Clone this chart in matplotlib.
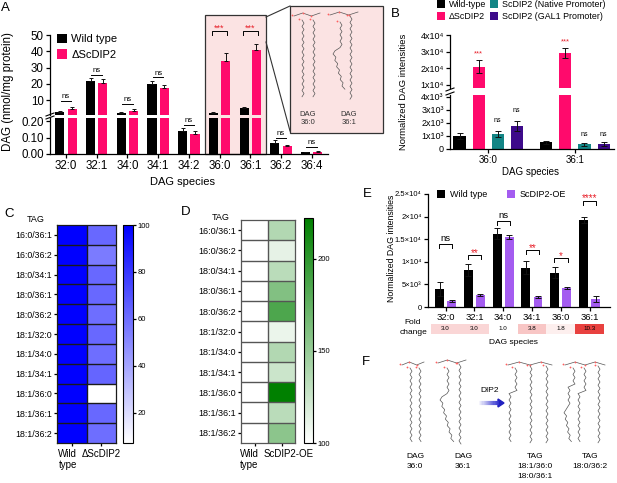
import numpy as np
import matplotlib
matplotlib.use("Agg")
import matplotlib.pyplot as plt
from matplotlib.colors import LinearSegmentedColormap
from matplotlib.patches import Rectangle
from matplotlib.transforms import ScaledTranslation

plt.rcParams['font.family'] = ['Liberation Sans', 'DejaVu Sans']
plt.rcParams['axes.linewidth'] = 0.9
plt.rcParams['xtick.major.width'] = 0.9
plt.rcParams['ytick.major.width'] = 0.9
plt.rcParams['xtick.major.size'] = 3
plt.rcParams['ytick.major.size'] = 3

W, H = 617, 483
PINK = '#ff0a6c'
TEAL = '#138585'
DPURP = '#3d0a8a'
LAV = '#a45cf0'
STAR = '#e8202a'

# --- panel A: DAG species, nmol/mg protein ---
species_a = ["32:0", "32:1", "34:0", "34:1", "34:2", "36:0", "36:1", "36:2", "36:4"]
a_wt = [2.7, 21.5, 2.0, 20.0, 0.14, 2.2, 5.0, 0.07, 0.01]
a_wt_err = [0.6, 2.2, 0.5, 1.5, 0.018, 0.6, 1.0, 0.013, 0.004]
a_ko = [4.5, 20.5, 3.5, 17.5, 0.12, 34.0, 40.5, 0.05, 0.012]
a_ko_err = [1.2, 2.2, 1.0, 2.0, 0.018, 5.0, 4.0, 0.008, 0.004]
a_sig = ["ns", "ns", "ns", "ns", "ns", "***", "***", "ns", "ns"]
a_sig_y = [9.4, 25.6, 7.5, 24.0, 0.18, 52.5, 52.5, 0.097, 0.042]

# --- panel B ---
species_b = ["36:0", "36:1"]
b_wt = [1000, 500]
b_wt_err = [200, 100]
b_ko = [21000, 29500]
b_ko_err = [4000, 3000]
b_nat = [1150, 350]
b_nat_err = [200, 120]
b_gal = [1800, 380]
b_gal_err = [380, 150]
b_ko_sig_y = [27500, 35000]
b_nat_sig_y = [2080, 1000]
b_gal_sig_y = [2850, 1000]

# --- panels C / D: TAG heatmaps ---
tag_species = ["16:0/36:1", "16:0/36:2", "18:0/34:1", "18:0/36:1", "18:0/36:2",
               "18:1/32:0", "18:1/34:0", "18:1/34:1", "18:1/36:0", "18:1/36:1", "18:1/36:2"]
c_wt = [100] * 11
c_ko = [62, 55, 62, 62, 60, 62, 60, 63, 7, 62, 60]
d_wt = [100] * 11
d_oe = [137, 112, 133, 160, 185, 110, 137, 125, 222, 133, 155]

# --- panel E ---
species_e = ["32:0", "32:1", "34:0", "34:1", "36:0", "36:1"]
e_wt = [4000, 8200, 16200, 8700, 7600, 19300]
e_wt_err = [1500, 1400, 1200, 1500, 1200, 700]
e_oe = [1300, 2700, 15500, 2200, 4200, 1800]
e_oe_err = [150, 250, 400, 200, 250, 600]
e_sig = ["ns", "**", "ns", "**", "*", "****"]
e_sig_y = [13900, 11450, 19100, 12550, 10800, 23500]
fold_change = [3.0, 3.0, 1.0, 3.8, 1.8, 10.3]

fig = plt.figure(figsize=(W / 100, H / 100), dpi=100)


def px_axes(x0, y0, x1, y1, z=1):
    ax = fig.add_axes([x0 / W, 1 - y1 / H, (x1 - x0) / W, (y1 - y0) / H])
    ax.set_zorder(z)
    ax.patch.set_alpha(0)
    return ax


def clean(ax):
    ax.spines['top'].set_visible(False)
    ax.spines['right'].set_visible(False)


def bracket(ax, x0, x1, y, drop, text, color, fs, pad=0.5):
    ax.plot([x0, x0, x1, x1], [y - drop, y, y, y - drop], color='black', lw=0.7, clip_on=False)
    ax.annotate(text, ((x0 + x1) / 2, y), xytext=(0, pad), textcoords='offset points',
                ha='center', va='bottom', color=color, fontsize=fs, annotation_clip=False)


def shift_label(ax, idx, dx):
    lab = ax.xaxis.get_major_ticks()[idx].label1
    lab.set_transform(lab.get_transform() + ScaledTranslation(dx / 100, 0, fig.dpi_scale_trans))


def heatmap(ax, data, cmap, vmin, vmax, edge):
    m = ax.imshow(data, cmap=cmap, vmin=vmin, vmax=vmax, aspect='auto',
                  extent=(0, data.shape[1], data.shape[0], 0), interpolation='nearest', zorder=0)
    ax.hlines(np.arange(1, data.shape[0]), 0, data.shape[1], color=edge, lw=1.0, zorder=3)
    ax.vlines(np.arange(1, data.shape[1]), 0, data.shape[0], color=edge, lw=1.0, zorder=3)
    for s in ax.spines.values():
        s.set_color(edge)
        s.set_linewidth(0.9)
    return m


# background (pink boxes) and overlay
bg = px_axes(0, 0, W, H, z=-1)
bg.set_xlim(0, W); bg.set_ylim(H, 0); bg.axis('off')
ov = px_axes(0, 0, W, H, z=10)
ov.set_xlim(0, W); ov.set_ylim(H, 0); ov.axis('off')

bg.add_patch(Rectangle((205, 15), 61, 139, facecolor='#fbe3e3', edgecolor='#333333', lw=0.9))
bg.add_patch(Rectangle((290, 6), 93, 127, facecolor='#fbe3e3', edgecolor='#333333', lw=0.9))
bg.plot([266, 290], [17, 6], color='#333333', lw=0.8)
bg.plot([266, 290], [42, 131], color='#333333', lw=0.8)

# ---------------- A ----------------
xa = np.arange(len(species_a))
ax_lo = px_axes(50, 118, 328, 154)
ax_hi = px_axes(50, 35, 328, 115)
ekw = dict(lw=0.7, capthick=0.7, ecolor='#111111')
zero_a = np.zeros(len(species_a))
for ax in (ax_lo, ax_hi):
    ax.bar(xa - 0.2, a_wt, 0.3, color='black', yerr=[zero_a, a_wt_err], capsize=1.5,
           error_kw=ekw, label='Wild type')
    ax.bar(xa + 0.2, a_ko, 0.3, color=PINK, yerr=[zero_a, a_ko_err], capsize=1.5,
           error_kw=ekw, label='ΔScDIP2')
    ax.set_xlim(-0.52, 8.53)
    clean(ax)
    ax.tick_params(labelsize=8.3, pad=1.5)
ax_lo.set_ylim(0, 0.22)
ax_lo.set_yticks([0, 0.1, 0.2], ['0.00', '0.10', '0.20'])
ax_lo.set_xticks(xa, species_a)
ax_hi.set_ylim(0.8, 50)
ax_hi.set_yticks([10, 20, 30, 40, 50])
ax_hi.set_xticks([])
ax_hi.spines['bottom'].set_visible(False)
ax_hi.legend(loc='upper left', bbox_to_anchor=(57 / W, 1 - 34 / H), bbox_transform=fig.transFigure,
             frameon=False, fontsize=8, handlelength=0.9, handleheight=0.9, handletextpad=0.4,
             labelspacing=0.45, borderpad=0, borderaxespad=0)
for i, (s, y) in enumerate(zip(a_sig, a_sig_y)):
    ax = ax_hi if y > 0.3 else ax_lo
    if s == 'ns':
        bracket(ax, i - 0.17, i + 0.17, y, 0, s, 'black', 5.5)
    else:
        bracket(ax, i - 0.25, i + 0.25, y, 2.5, s, STAR, 6.5, pad=-1.5)
ov.plot([46, 54], [116, 113], color='black', lw=0.8)
ov.plot([46, 54], [119, 116], color='black', lw=0.8)
ov.text(8, 92, 'DAG (nmol/mg protein)', rotation=90, ha='center', va='center', fontsize=8.3)
ov.text(182, 182, 'DAG species', ha='center', va='center', fontsize=8)


# structures
def zig(x0, y0, n, step=3.2, amp=2.0, bends=None):
    xs, ys = [], []
    shift = 0.0
    for i in range(n):
        if bends and i in bends:
            shift += bends[i]
        xs.append(x0 + shift + (amp if i % 2 else 0))
        ys.append(y0 + i * step)
    return xs, ys


def molecule(x0, y0, x1, chains):
    n = len(chains) + 2
    bx = np.linspace(x0, x1, n)
    by = [y0 + (3 if i % 2 == 0 else 0) for i in range(n)]
    ov.plot(bx, by, color='#555555', lw=0.5)
    ov.plot(bx[1:-1], by[1:-1], 'o', color='#ff6060', ms=1.3, mew=0)
    ov.plot([bx[0] - 2], [by[0] - 1], 'o', color='#ff6060', ms=1.3, mew=0)
    for cx, cy, n_c, bends in chains:
        xs, ys = zig(cx, cy, n_c, bends=bends)
        ov.plot(xs, ys, color='#555555', lw=0.5)
        ov.plot([cx - 3], [cy - 1], 'o', color='#ff6060', ms=1.3, mew=0)


kink1 = {9: -7}
kink1.update({i: 0.9 for i in range(11, 25)})
molecule(294, 13, 320, [(302, 20, 25, None), (313, 20, 25, None)])
molecule(330, 12, 358, [(340, 22, 22, kink1), (350, 16, 27, None)])
for xx, lines in [(308, ['DAG', '36:0']), (349, ['DAG', '36:1'])]:
    for k, t in enumerate(lines):
        ov.text(xx, 115 + k * 8, t, ha='center', va='center', fontsize=5.5, color='#333333')

molecule(402, 362, 424, [(410, 368, 24, None), (419, 368, 24, None)])
molecule(438, 360, 466, [(447, 368, 24, kink1), (459, 364, 26, None)])
kink2 = {8: -6}
molecule(508, 362, 552, [(515, 368, 24, kink2), (530, 366, 25, None), (546, 366, 25, None)])
kink3 = {6: -5, 13: -4}
kink3.update({i: 0.6 for i in range(15, 24)})
molecule(565, 362, 605, [(573, 368, 24, kink3), (584, 368, 24, kink2), (598, 366, 25, None)])
for xx, lines in [(415, ['DAG', '36:0']), (463, ['DAG', '36:1']),
                  (535, ['TAG', '18:1/36:0', '18:0/36:1']), (590, ['TAG', '18:0/36:2'])]:
    for k, t in enumerate(lines):
        ov.text(xx, 457 + k * 10, t, ha='center', va='center', fontsize=6)
grad = np.linspace(0, 1, 20)
for k in range(19):
    c = (1 - grad[k] * 0.85, 1 - grad[k] * 0.85, 1 - grad[k] * 0.2)
    ov.plot([478 + k * 1.1, 478 + (k + 1) * 1.1], [403, 403], color=c, lw=3, solid_capstyle='butt')
ov.add_patch(plt.Polygon([[498, 399], [504, 403], [498, 407]], color='#2020c0'))
ov.text(490, 391, 'DIP2', ha='center', va='center', fontsize=6)

# ---------------- B ----------------
xb = np.arange(2)
ax_blo = px_axes(450, 95, 614, 149)
ax_bhi = px_axes(450, 35, 614, 88)
sets = [(b_wt, b_wt_err, 'black', 'Wild-type', -0.33),
        (b_ko, b_ko_err, PINK, 'ΔScDIP2', -0.11),
        (b_nat, b_nat_err, TEAL, 'ScDIP2 (Native Promoter)', 0.11),
        (b_gal, b_gal_err, DPURP, 'ScDIP2 (GAL1 Promoter)', 0.33)]
for ax in (ax_blo, ax_bhi):
    for vals, errs, col, lab, off in sets:
        ax.bar(xb + off, vals, 0.14, color=col, yerr=errs, capsize=2, error_kw=ekw, label=lab)
    ax.set_xlim(-0.44, 1.45)
    clean(ax)
    ax.tick_params(labelsize=6.5, pad=1.5)
ax_blo.set_ylim(0, 4150)
ax_blo.set_yticks([0, 1000, 2000, 3000, 4000], ['0', '1x10³', '2x10³', '3x10³', '4x10³'])
ax_blo.set_xticks(xb, species_b)
ax_blo.tick_params(axis='x', labelsize=7)
ax_bhi.set_ylim(8200, 40000)
ax_bhi.set_yticks([10000, 20000, 30000, 40000], ['1x10⁴', '2x10⁴', '3x10⁴', '4x10⁴'])
ax_bhi.set_xticks([])
ax_bhi.spines['bottom'].set_visible(False)
for i in range(2):
    ax_bhi.text(i - 0.11, b_ko_sig_y[i], '***', ha='center', va='baseline', color=STAR, fontsize=5.5)
    ax_blo.text(i + 0.11, b_nat_sig_y[i], 'ns', ha='center', va='baseline', fontsize=5)
    ax_blo.text(i + 0.33, b_gal_sig_y[i], 'ns', ha='center', va='baseline', fontsize=5)
ax_bhi.legend(loc='upper left', bbox_to_anchor=(437 / W, 1 - 0 / H), bbox_transform=fig.transFigure,
              ncol=2, frameon=False, fontsize=6.4, handlelength=0.9, handleheight=0.9,
              handletextpad=0.4, labelspacing=0.35, columnspacing=0.5, borderpad=0, borderaxespad=0)
ov.plot([446, 454], [91, 88], color='black', lw=0.8)
ov.plot([446, 454], [95, 92], color='black', lw=0.8)
ov.text(403, 92, 'Normalized DAG intensities', rotation=90, ha='center', va='center', fontsize=6.8)
ov.text(530, 172, 'DAG species', ha='center', va='center', fontsize=7)

# ---------------- C ----------------
nrow = len(tag_species)
ax_c = px_axes(57, 225, 116, 443)
cmap_c = LinearSegmentedColormap.from_list('wb', ['white', '#0000ff'])
mc = heatmap(ax_c, np.column_stack([c_wt, c_ko]), cmap_c, 7, 100, '#1a1a1a')
ax_c.set_yticks(np.arange(nrow) + 0.5, tag_species)
ax_c.set_xticks([0.5, 1.5], ['Wild\ntype', 'ΔScDIP2'])
ax_c.tick_params(axis='y', labelsize=6.3, length=2, pad=1.5)
ax_c.tick_params(axis='x', labelsize=7, length=2, pad=2)
shift_label(ax_c, 0, -4)
cax_c = px_axes(123, 225, 133, 443)
cb = fig.colorbar(mc, cax=cax_c, ticks=[20, 40, 60, 80, 100])
cb.ax.tick_params(labelsize=5.5, length=2, pad=1.5)
cb.outline.set_linewidth(0.8)
ov.text(36, 219, 'TAG', ha='center', va='center', fontsize=6.5)

# ---------------- D ----------------
ax_d = px_axes(241, 220, 295, 443)
cmap_d = LinearSegmentedColormap.from_list('wg', ['white', '#008000'])
md = heatmap(ax_d, np.column_stack([d_wt, d_oe]), cmap_d, 100, 222, '#555555')
ax_d.set_yticks(np.arange(nrow) + 0.5, tag_species)
ax_d.set_xticks([0.5, 1.5], ['Wild\ntype', 'ScDIP2-OE'])
ax_d.tick_params(axis='y', labelsize=6.5, length=2, pad=1.5)
ax_d.tick_params(axis='x', labelsize=7, length=2, pad=2)
shift_label(ax_d, 0, -5)
shift_label(ax_d, 1, 7)
cax_d = px_axes(304, 218, 313, 443)
cbd = fig.colorbar(md, cax=cax_d, ticks=[100, 150, 200])
cbd.ax.tick_params(labelsize=5.5, length=2, pad=1.5)
cbd.outline.set_linewidth(0.8)
ov.text(221, 217, 'TAG', ha='center', va='center', fontsize=6.5)

# ---------------- E ----------------
xe = np.arange(len(species_e))
ax_e = px_axes(428, 194, 610, 307)
ax_e.bar(xe - 0.21, e_wt, 0.31, color='black', yerr=e_wt_err, capsize=2, error_kw=ekw, label='Wild type')
ax_e.bar(xe + 0.21, e_oe, 0.31, color=LAV, yerr=e_oe_err, capsize=2, error_kw=ekw, label='ScDIP2-OE')
ax_e.set_xlim(-0.61, 5.71)
ax_e.set_ylim(0, 25000)
ax_e.set_yticks([0, 5000, 10000, 15000, 20000, 25000],
                ['0', '5×10³', '1×10⁴', '1.5×10⁴', '2×10⁴', '2.5×10⁴'])
ax_e.set_xticks(xe, species_e)
clean(ax_e)
ax_e.tick_params(axis='y', labelsize=5.5, pad=1.5)
ax_e.tick_params(axis='x', labelsize=6.8, pad=1.5)
for i, (s, y) in enumerate(zip(e_sig, e_sig_y)):
    bracket(ax_e, i - 0.22, i + 0.24, y, 900, s, 'black' if s == 'ns' else STAR,
            6.8 if s == 'ns' else 7, pad=0.5 if s == 'ns' else -2)
ax_e.legend(loc='upper left', bbox_to_anchor=(437 / W, 1 - 190 / H), bbox_transform=fig.transFigure,
            ncol=2, frameon=False, fontsize=6.5, handlelength=0.9, handleheight=0.9,
            handletextpad=0.5, columnspacing=2.2, borderpad=0, borderaxespad=0)
ov.text(392, 248, 'Normalized DAG intensities', rotation=90, ha='center', va='center', fontsize=6.3)

ax_f = px_axes(428, 324, 610, 334)
cmap_f = LinearSegmentedColormap.from_list('wr', ['white', '#e8413f'])
ax_f.pcolormesh(np.arange(len(fold_change) + 1) - 0.5, [0, 1], np.array([fold_change]),
                cmap=cmap_f, vmin=1, vmax=10.3)
ax_f.set_xlim(-0.61, 5.71)
ax_f.axis('off')
for i, v in enumerate(fold_change):
    ax_f.text(i, 0.5, f'{v:.1f}', ha='center', va='center', fontsize=4.5)
ov.text(413, 323, 'Fold', ha='center', va='center', fontsize=6)
ov.text(413, 333, 'change', ha='center', va='center', fontsize=6)
ov.text(513, 342, 'DAG species', ha='center', va='center', fontsize=6)

# panel letters
for letter, (x, y) in {'A': (5, 8), 'B': (395, 14), 'C': (9, 214), 'D': (186, 212),
                       'E': (367, 194), 'F': (366, 362)}.items():
    ov.text(x, y, letter, ha='center', va='center', fontsize=9.5)

fig.savefig('out.png', dpi=100)
